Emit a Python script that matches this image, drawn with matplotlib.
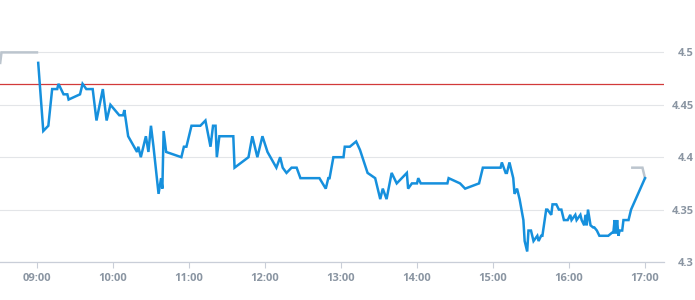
import pandas as pd
import matplotlib.pyplot as plt
import matplotlib.dates as mdates

day = "2024-01-02 "

# intraday price (blue)
times = ["09:01", "09:05", "09:09", "09:12", "09:16", "09:17", "09:21", "09:24",
         "09:25", "09:34", "09:36", "09:39", "09:44", "09:47", "09:52", "09:55",
         "09:58", "10:05", "10:08", "10:09", "10:12", "10:19", "10:20", "10:22",
         "10:26", "10:28", "10:30", "10:32", "10:36", "10:38", "10:39", "10:40",
         "10:42", "10:54", "10:56", "10:58", "11:02", "11:09", "11:13", "11:17",
         "11:19", "11:21", "11:22", "11:24", "11:35", "11:36", "11:47", "11:50",
         "11:54", "11:58", "12:02", "12:09", "12:12", "12:14", "12:17", "12:21",
         "12:25", "12:28", "12:43", "12:48", "12:50", "12:51", "12:54", "13:02",
         "13:03", "13:07", "13:12", "13:15", "13:21", "13:27", "13:31", "13:33",
         "13:36", "13:40", "13:44", "13:52", "13:53", "13:56", "14:00", "14:01",
         "14:03", "14:24", "14:25", "14:34", "14:38", "14:49", "14:52", "15:06",
         "15:07", "15:10", "15:11", "15:13", "15:16", "15:17", "15:19", "15:21",
         "15:24", "15:25", "15:27", "15:28", "15:30", "15:32", "15:35", "15:36",
         "15:38", "15:39", "15:42", "15:43", "15:46", "15:47", "15:50", "15:52",
         "15:54", "15:56", "15:59", "16:01", "16:02", "16:05", "16:06", "16:09",
         "16:10", "16:12", "16:13", "16:14", "16:15", "16:17", "16:19", "16:20",
         "16:22", "16:24", "16:31", "16:34", "16:35", "16:36", "16:37", "16:38",
         "16:39", "16:40", "16:42", "16:43", "16:47", "16:48", "16:49", "17:00"]
prices = [4.49, 4.425, 4.43, 4.465, 4.465, 4.47, 4.46, 4.46,
          4.455, 4.46, 4.47, 4.465, 4.465, 4.435, 4.465, 4.435,
          4.45, 4.44, 4.44, 4.445, 4.42, 4.405, 4.41, 4.40,
          4.42, 4.405, 4.43, 4.41, 4.365, 4.38, 4.37, 4.425,
          4.405, 4.40, 4.41, 4.41, 4.43, 4.43, 4.435, 4.41,
          4.43, 4.43, 4.40, 4.42, 4.42, 4.39, 4.40, 4.42,
          4.40, 4.42, 4.405, 4.39, 4.40, 4.39, 4.385, 4.39,
          4.39, 4.38, 4.38, 4.37, 4.38, 4.38, 4.40, 4.40,
          4.41, 4.41, 4.415, 4.407, 4.385, 4.38, 4.36, 4.37,
          4.36, 4.385, 4.375, 4.385, 4.37, 4.375, 4.375, 4.38,
          4.375, 4.375, 4.38, 4.375, 4.37, 4.375, 4.39, 4.39,
          4.395, 4.385, 4.385, 4.395, 4.38, 4.365, 4.37, 4.36,
          4.34, 4.32, 4.31, 4.33, 4.33, 4.32, 4.325, 4.32,
          4.325, 4.325, 4.35, 4.35, 4.345, 4.355, 4.355, 4.35,
          4.35, 4.34, 4.34, 4.345, 4.34, 4.345, 4.34, 4.345,
          4.34, 4.335, 4.345, 4.335, 4.35, 4.335, 4.333, 4.333,
          4.33, 4.325, 4.325, 4.328, 4.328, 4.34, 4.327, 4.34,
          4.325, 4.33, 4.33, 4.34, 4.34, 4.345, 4.35, 4.38]

# pre / post session (grey)
pre_times = ["08:31", "08:32", "09:00"]
pre_prices = [4.49, 4.50, 4.50]
post_times = ["16:50", "16:58", "17:00"]
post_prices = [4.39, 4.39, 4.38]

ref_price = 4.47
yticks = [4.3, 4.35, 4.4, 4.45, 4.5]
ytick_labels = ["4.3", "4.35", "4.4", "4.45", "4.5"]
xtick_times = ["09:00", "10:00", "11:00", "12:00", "13:00", "14:00", "15:00", "16:00", "17:00"]


def to_dt(lst):
    return pd.to_datetime([day + t for t in lst])


plt.rcParams['font.family'] = ['Open Sans', 'DejaVu Sans']

fig = plt.figure(figsize=(6.95, 3.0), dpi=100)
ax = fig.add_axes([0, 0.1267, 664 / 695, 0.8733])

ax.plot(to_dt(pre_times), pre_prices, color='#bcc5ce', lw=1.8, solid_joinstyle='miter')
ax.plot(to_dt(post_times), post_prices, color='#bcc5ce', lw=1.8, solid_joinstyle='miter')
ax.plot(to_dt(times), prices, color='#1690dd', lw=1.8, solid_joinstyle='miter', zorder=3)
ax.axhline(ref_price, color='#d23a3a', lw=0.9, zorder=2)

ax.set_xlim(pd.Timestamp(day + "08:30:50"), pd.Timestamp(day + "17:15"))
ax.set_ylim(4.3, 4.55)

ax.set_yticks(yticks)
ax.set_yticklabels(ytick_labels)
ax.yaxis.tick_right()
ax.grid(axis='y', color='#e3e5e8', lw=0.8)
ax.set_axisbelow(True)

ax.set_xticks(to_dt(xtick_times))
ax.xaxis.set_major_formatter(mdates.DateFormatter('%H:%M'))

for s in ['top', 'left', 'right']:
    ax.spines[s].set_visible(False)
ax.spines['bottom'].set_color('#c9ced8')
ax.spines['bottom'].set_linewidth(0.9)

ax.tick_params(axis='x', length=4, color='#c9ced8', labelcolor='#8a95a2',
               labelsize=8, pad=4)
ax.tick_params(axis='y', length=0, labelcolor='#8a95a2', labelsize=8, pad=21.5)
for lab in ax.get_xticklabels():
    lab.set_fontweight('bold')
for lab in ax.get_yticklabels():
    lab.set_horizontalalignment('right')
    lab.set_fontweight('bold')

fig.savefig('out.png', dpi=100)
